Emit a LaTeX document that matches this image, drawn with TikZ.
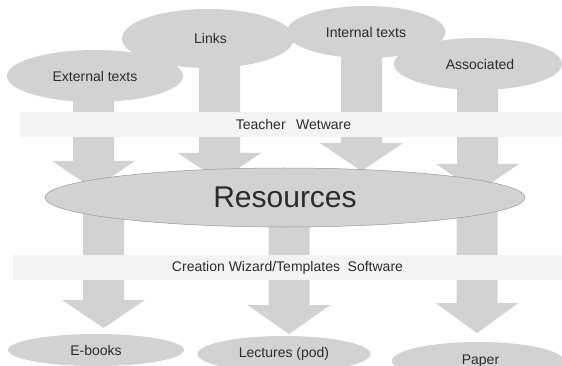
\documentclass[tikz,border=0pt]{standalone}
\usepackage{fontspec}
\setmainfont{Liberation Sans}
\usetikzlibrary{shapes.geometric}
\definecolor{boxgray}{HTML}{D2D2D2}
\definecolor{bandfill}{HTML}{F3F3F3}
\definecolor{ink}{HTML}{2B2B2B}
\newcommand{\blockarr}[4]{%
  \fill[boxgray] (#1-20.5,#2) -- (#1-20.5,#3) -- (#1-41.5,#3) -- (#1,#4)
    -- (#1+41.5,#3) -- (#1+20.5,#3) -- (#1+20.5,#2) -- cycle;}
\begin{document}
\begin{tikzpicture}[x=1pt,y=-1pt,
  bubble/.style={ellipse, fill=boxgray, inner sep=0pt, text=ink,
    font=\fontsize{14}{16}\selectfont},
  bandbox/.style={rectangle, fill=bandfill, inner sep=0pt, text=ink,
    font=\fontsize{14}{16}\selectfont}]
\useasboundingbox (0,0) rectangle (562,366);
% block arrows (connectors) from the top sources to Resources
\blockarr{93.5}{76}{161}{189}
\blockarr{219.5}{40}{153}{181}
\blockarr{361.5}{33}{143}{171}
\blockarr{477.5}{64}{164}{192}
% top ellipses
\node[bubble, minimum width=176pt, minimum height=52pt] (ext) at (95,76) {External texts};
\node[bubble, minimum width=172pt, minimum height=59pt] (links) at (208,38.5) {\hspace{5pt}Links};
\node[bubble, minimum width=159pt, minimum height=52pt] (int) at (366,32) {Internal texts\hspace{4pt}};
\node[bubble, minimum width=168pt, minimum height=52pt] (assoc) at (478,64) {\hspace{4pt}Associated};
% band 1
\node[bandbox, minimum width=542pt, minimum height=25pt] (tw) at (291,124.5) {\hspace{5pt}Teacher\hspace{0.75em}Wetware};
% lower block arrows from Resources to outputs
\blockarr{103.5}{197}{300}{328}
\blockarr{289}{197}{305}{334}
\blockarr{477}{197}{303}{333}
% Resources
\node[ellipse, fill=boxgray, draw=black!40, line width=0.5pt, inner sep=0pt,
  minimum width=480pt, minimum height=59pt, text=ink,
  font=\fontsize{30}{34}\selectfont] (res) at (285,197.5) {Resources};
% band 2
\node[bandbox, minimum width=549pt, minimum height=25pt] (cw) at (287.5,267.5) {Creation Wizard/Templates\hspace{0.55em}Software};
% bottom ellipses
\node[bubble, minimum width=176pt, minimum height=32pt] (ebook) at (96,350) {E-books};
\node[bubble, minimum width=173pt, minimum height=36pt] (lect) at (284,354) {Lectures (pod)};
\node[bubble, minimum width=172pt, minimum height=38pt] (paper) at (478,361) {\hspace{5pt}Paper};
\end{tikzpicture}
\end{document}
